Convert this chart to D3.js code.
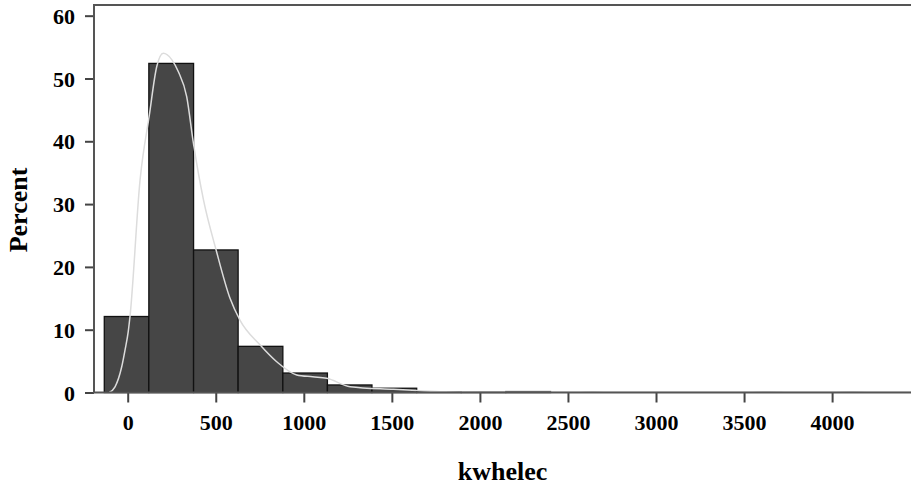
<!DOCTYPE html>
<html>
<head>
<meta charset="utf-8">
<script src="https://cdn.jsdelivr.net/npm/d3@7"></script>
<style>
  body { margin: 0; background: #fff; }
  text { font-family: "Liberation Serif", "Times New Roman", serif; font-weight: bold; }
</style>
</head>
<body>
<div id="chart"></div>
<script>
// histogram bins (lower / upper edge in kwhelec) and their percent
const binLo = [-133, 120, 374, 627, 881, 1134, 1387, 1641, 1894, 2147];
const binHi = [120, 374, 627, 881, 1134, 1387, 1641, 1894, 2147, 2401];
const percent = [12.1, 52.4, 22.7, 7.35, 3.1, 1.2, 0.68, 0.12, 0.03, 0.15];

// kernel density curve
const curveX = [-105, -72, -34, -15, 3, 13, 70, 123, 165, 202, 250, 287, 335, 373, 430, 502, 581, 638, 751, 846, 960, 1050, 1130, 1263, 1509, 1642, 1800, 2000, 2550, 2640, 2720, 3500, 3640, 3780, 4000, 4110, 4220, 4448];
const curveY = [0, 0.9, 4.1, 6.8, 9.7, 12.1, 33.8, 44.2, 51.9, 54.0, 53.0, 51.1, 47.1, 39.7, 30.7, 22.7, 15.0, 11.5, 7.6, 4.9, 2.8, 2.5, 2.26, 0.93, 0.5, 0.3, 0.1, 0.05, 0.02, 0.12, 0.02, 0.02, 0.12, 0.02, 0.02, 0.12, 0.02, 0.02];

const xTicks = [0, 500, 1000, 1500, 2000, 2500, 3000, 3500, 4000];
const yTicks = [0, 10, 20, 30, 40, 50, 60];

const margin = { top: 5, right: 0, bottom: 95.5, left: 94 };
const width = 911 - margin.left - margin.right;
const height = 488 - margin.top - margin.bottom;

const svg = d3.select("#chart")
  .append("svg")
  .attr("width", 911)
  .attr("height", 488)
  .append("g")
  .attr("transform", `translate(${margin.left}, ${margin.top})`);

const xScale = d3.scaleLinear()
  .domain([-191.4, 4448])
  .range([0, width]);

const yScale = d3.scaleLinear()
  .domain([0, 61.7])
  .range([height, 0]);

// bars
svg.selectAll("rect.bar")
  .data(percent)
  .enter()
  .append("rect")
  .attr("class", "bar")
  .attr("x", (d, i) => xScale(binLo[i]))
  .attr("y", (d) => yScale(d))
  .attr("width", (d, i) => xScale(binHi[i]) - xScale(binLo[i]))
  .attr("height", (d) => height - yScale(d))
  .attr("fill", "#464646")
  .attr("stroke", "#111")
  .attr("stroke-width", 1.3);

// density curve
const pts = curveX.map((x, i) => [x, curveY[i]]);
svg.append("path")
  .datum(pts)
  .attr("fill", "none")
  .attr("stroke", "#dcdcdc")
  .attr("stroke-width", 1.5)
  .attr("d", d3.line()
    .x((d) => xScale(d[0]))
    .y((d) => yScale(d[1]))
    .curve(d3.curveMonotoneX));

// x axis
svg.append("g")
  .attr("transform", `translate(0, ${height})`)
  .call(d3.axisBottom(xScale).tickValues(xTicks).tickSize(10).tickFormat(d3.format("d")))
  .call((g) => g.select(".domain").remove())
  .call((g) => g.selectAll(".tick line").attr("stroke", "#444").attr("stroke-width", 2))
  .call((g) => g.selectAll(".tick text")
    .attr("y", 37).attr("dy", 0)
    .attr("fill", "#000")
    .style("font-size", "22px"));

// y axis
svg.append("g")
  .call(d3.axisLeft(yScale).tickValues(yTicks).tickSize(9).tickPadding(10))
  .call((g) => g.select(".domain").remove())
  .call((g) => g.selectAll(".tick line").attr("stroke", "#444").attr("stroke-width", 2))
  .call((g) => g.selectAll(".tick text")
    .attr("fill", "#000")
    .attr("dy", "0.35em")
    .style("font-size", "22px"));

// frame lines: bottom, left, top
svg.append("path")
  .attr("fill", "none")
  .attr("stroke", "#555")
  .attr("stroke-width", 2)
  .attr("d", `M${width + 2},0H0V${height}H${width + 2}`);

// axis titles
svg.append("text")
  .attr("x", width / 2)
  .attr("y", 480 - margin.top)
  .style("text-anchor", "middle")
  .style("font-size", "26px")
  .text("kwhelec");

svg.append("text")
  .attr("transform", "rotate(-90)")
  .attr("x", -(210 - margin.top))
  .attr("y", 26.5 - margin.left)
  .style("text-anchor", "middle")
  .style("font-size", "26px")
  .text("Percent");
</script>
</body>
</html>
